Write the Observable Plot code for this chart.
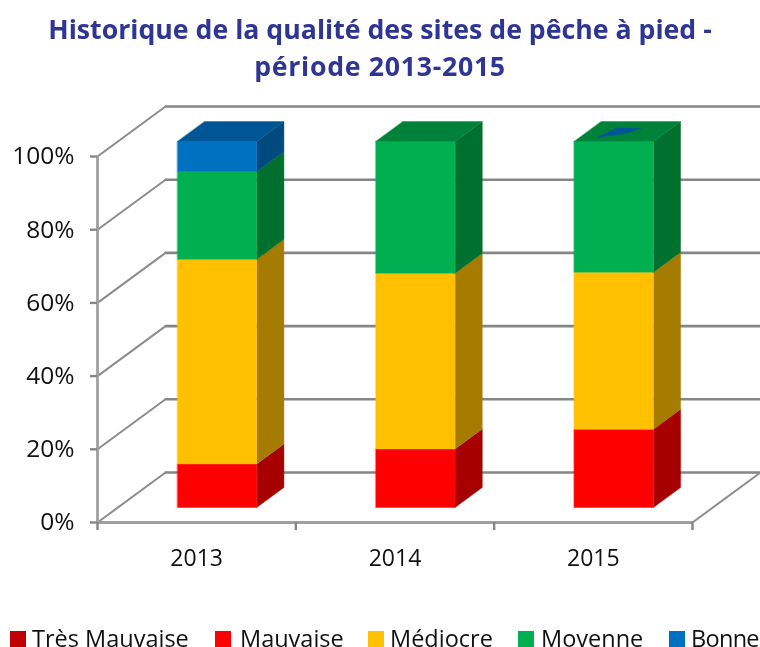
<!doctype html>
<html lang="fr"><head><meta charset="utf-8">
<script src="https://cdn.jsdelivr.net/npm/d3@7"></script>
<script src="https://cdn.jsdelivr.net/npm/@observablehq/plot@0.6"></script>
<style>
html,body{margin:0;padding:0;background:#fff;width:760px;height:647px;overflow:hidden}
#wrap{position:relative;width:760px;height:647px;overflow:hidden;font-family:"Open Sans",sans-serif}
#title{position:absolute;left:0;top:10px;width:760px;text-align:center;color:#2f3594;font-weight:700;font-size:26.7px;line-height:37px;filter:blur(.35px)}
#title span{letter-spacing:.7px}
#chart{position:absolute;left:0;top:90px;filter:blur(.35px)}
#chart svg{display:block;overflow:visible}
.sw{position:absolute;top:631px;width:16px;height:16px}
.lg{position:absolute;top:622px;font-size:23.5px;line-height:32px;color:#111;white-space:nowrap;filter:blur(.3px)}
</style></head><body><div id="wrap">
<div id="title">Historique de la qualité des sites de pêche à pied -<br><span>période 2013-2015</span></div>
<div id="chart"></div>
<div id="legend"></div>
</div>
<script>
const years = ["2013", "2014", "2015"];
const tresMauvaise = [0, 0, 0];
const mauvaise = [11.9, 16.0, 21.4];
const mediocre = [55.9, 48.0, 42.9];
const moyenne = [24.0, 36.0, 35.7];
const bonne = [8.2, 0, 0];
const pctTicks = [0, 20, 40, 60, 80, 100];
const seriesNames = ["Très Mauvaise", "Mauvaise", "Médiocre", "Moyenne", "Bonne"];
const frontColors = ["#C00000", "#FF0000", "#FFC000", "#00B050", "#0070C0"];
const sideColors = ["#800000", "#A60000", "#A67C00", "#00702F", "#004A80"];
const topColors = ["#900000", "#C00000", "#C09000", "#00823B", "#005694"];
// tiny trace of "Bonne" seen on the top of the 2015 bar: [across, depth] fractions of the top face
const bonneTrace2015 = [[.22,.2],[.31,.7],[.62,.66],[.53,.42]];

const seriesValues = [tresMauvaise, mauvaise, mediocre, moyenne, bonne];

// oblique projection, in data units: one unit of depth shifts by these amounts
const depthX = 0.343, depthY = 13.66;
const proj = (c, v, d) => ({x: c + d * depthX, y: v + d * depthY});
const barWidth = 0.4, d0 = 0.3, d1 = 0.7;
const barLeft = i => i + (1 - barWidth) / 2;

const polys = [];
function poly(id, color, pts) { pts.forEach(p => polys.push({id, color, ...p})); }
years.forEach((yr, i) => {
  const a = barLeft(i), b = a + barWidth;
  let base = 0, lastTop = 0;
  seriesValues.forEach((vals, s) => {
    const v = vals[i];
    if (!(v > 0)) return;
    const t = base + v;
    poly(`${i}-${s}-side`, sideColors[s], [proj(b, base, d0), proj(b, base, d1), proj(b, t, d1), proj(b, t, d0)]);
    poly(`${i}-${s}-front`, frontColors[s], [proj(a, base, d0), proj(b, base, d0), proj(b, t, d0), proj(a, t, d0)]);
    base = t; lastTop = s;
  });
  poly(`${i}-top`, topColors[lastTop], [proj(a, base, d0), proj(b, base, d0), proj(b, base, d1), proj(a, base, d1)]);
  if (i === 2) {
    poly(`${i}-trace`, topColors[4], bonneTrace2015.map(([u, w]) =>
      proj(a + u * barWidth, base, d0 + w * (d1 - d0))));
  }
});

const backGrid = pctTicks.map(p => [proj(0, p, 1), proj(3, p, 1)]).flat()
  .map((p, k) => ({...p, k: Math.floor(k / 2)}));
const sideGrid = pctTicks.map(p => [proj(0, p, 0), proj(0, p, 1)]).flat()
  .map((p, k) => ({...p, k: Math.floor(k / 2)}));
const floorRight = [proj(3, 0, 0), proj(3, 0, 1)];

const plot = Plot.plot({
  width: 760, height: 500,
  marginLeft: 97, marginRight: 68, marginTop: 66, marginBottom: 68,
  style: {background: "transparent", overflow: "visible"},
  x: {type: "linear", domain: [0, 3], axis: null},
  y: {type: "linear", domain: [0, 100], axis: null},
  color: {type: "identity"},
  marks: [
    Plot.line(backGrid, {x: "x", y: "y", z: "k", stroke: "#868686", strokeWidth: 2.6}),
    Plot.line(sideGrid, {x: "x", y: "y", z: "k", stroke: "#8c8c8c", strokeWidth: 2}),
    Plot.line(floorRight, {x: "x", y: "y", stroke: "#8c8c8c", strokeWidth: 2}),
    Plot.line(polys, {x: "x", y: "y", z: "id", fill: "color", stroke: "color", strokeWidth: 0.4, curve: "linear-closed"}),
    Plot.ruleY([0], {x1: 0, x2: 3, stroke: "#a0a0a0", strokeWidth: 2.8}),
    Plot.ruleX([0], {y1: 0, y2: 100, stroke: "#a0a0a0", strokeWidth: 2.8}),
    Plot.axisY({ticks: pctTicks, tickFormat: d => d + "%", tickSize: 7, tickPadding: 16,
      label: null, stroke: "#868686", strokeWidth: 2.4, fontSize: 24.5, fill: "#111",
      fontFamily: "'Open Sans',sans-serif", marginLeft: 97}),
    Plot.ruleX([0, 1, 2, 3], {y1: -2.2, y2: 0, stroke: "#868686", strokeWidth: 2.4}),
    Plot.text(years, {x: (d, i) => i + 0.5, y: () => 0, dy: 36, fontSize: 23, fill: "#111",
      fontFamily: "'Open Sans',sans-serif"})
  ]
});
document.getElementById("chart").append(plot);

const swatchLeft = [10, 215, 368, 518, 669];
const labelLeft = [32, 240, 390, 541, 691];
const labelSpacing = [0, 0, 0, 0, -0.7];
const lg = document.getElementById("legend");
seriesNames.forEach((n, i) => {
  const s = document.createElement("div"); s.className = "sw";
  s.style.left = swatchLeft[i] + "px"; s.style.background = frontColors[i]; lg.append(s);
  const t = document.createElement("div"); t.className = "lg";
  t.style.left = labelLeft[i] + "px"; t.style.letterSpacing = labelSpacing[i] + "px";
  t.textContent = n; lg.append(t);
});
</script></body></html>
